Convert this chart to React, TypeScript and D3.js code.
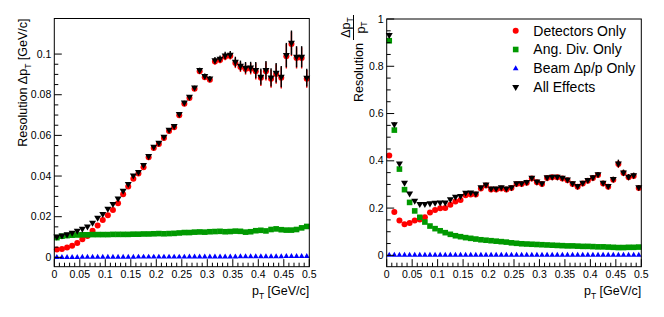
import React from "react";
import * as d3 from "d3";

// ---- data ----
const binCenters = d3.range(50).map((i) => 0.005 + 0.01 * i);

const xTickValues = [0, 0.05, 0.1, 0.15, 0.2, 0.25, 0.3, 0.35, 0.4, 0.45, 0.5];
const xTickLabels = ["0", "0.05", "0.1", "0.15", "0.2", "0.25", "0.3", "0.35", "0.4", "0.45", "0.5"];
const yTicksLeft = [0, 0.02, 0.04, 0.06, 0.08, 0.1];
const yTickLabelsLeft = ["0", "0.02", "0.04", "0.06", "0.08", "0.1"];
const yTicksRight = [0, 0.2, 0.4, 0.6, 0.8, 1];
const yTickLabelsRight = ["0", "0.2", "0.4", "0.6", "0.8", "1"];

const legendLabels = ["Detectors Only", "Ang. Div. Only", "Beam \u0394p/p Only", "All Effects"];

// Left panel: absolute resolution Δp_T [GeV/c]
const leftDetectors = [
  0.0039, 0.0041, 0.0048, 0.0057, 0.007, 0.0089, 0.0105, 0.0131, 0.0157, 0.0184,
  0.0207, 0.0233, 0.0266, 0.031, 0.0348, 0.0387, 0.0413, 0.0443, 0.0492, 0.0538,
  0.0558, 0.0587, 0.0622, 0.064, 0.0699, 0.0756, 0.0784, 0.083, 0.0915, 0.0886,
  0.0874, 0.0963, 0.0971, 0.0987, 0.0991, 0.0956, 0.0937, 0.0927, 0.0928, 0.0915,
  0.0883, 0.0915, 0.0879, 0.0902, 0.0883, 0.0989, 0.105, 0.0981, 0.0981, 0.0878,
];
const leftAngDiv = [
  0.0097, 0.0104, 0.0107, 0.0109, 0.011, 0.0111, 0.0111, 0.0112, 0.0112, 0.0112,
  0.0112, 0.0113, 0.0113, 0.0113, 0.0113, 0.0114, 0.0114, 0.0115, 0.0115, 0.0116,
  0.0117, 0.0116, 0.0117, 0.0118, 0.012, 0.0122, 0.0122, 0.0124, 0.0125, 0.0124,
  0.0126, 0.0127, 0.0128, 0.0126, 0.0127, 0.0129, 0.0128, 0.0124, 0.0126, 0.0131,
  0.0133, 0.013, 0.0137, 0.014, 0.0136, 0.0134, 0.0134, 0.0137, 0.0145, 0.0152,
];
const leftBeam = [
  0.0, 0.0, 0.0, 0.0, 0.0, 0.0001, 0.0001, 0.0001, 0.0001, 0.0001,
  0.0001, 0.0001, 0.0001, 0.0001, 0.0001, 0.0001, 0.0002, 0.0002, 0.0002, 0.0002,
  0.0002, 0.0002, 0.0002, 0.0002, 0.0002, 0.0002, 0.0003, 0.0003, 0.0003, 0.0003,
  0.0003, 0.0003, 0.0003, 0.0003, 0.0003, 0.0003, 0.0004, 0.0004, 0.0004, 0.0004,
  0.0004, 0.0004, 0.0004, 0.0004, 0.0004, 0.0005, 0.0005, 0.0005, 0.0005, 0.0005,
];
const leftAll = [
  0.0102, 0.0108, 0.0113, 0.0121, 0.0131, 0.0141, 0.0152, 0.017, 0.0195, 0.0213,
  0.0239, 0.0262, 0.0289, 0.0328, 0.0361, 0.0403, 0.042, 0.0454, 0.0498, 0.0544,
  0.0564, 0.0593, 0.0628, 0.0646, 0.0705, 0.0762, 0.079, 0.0836, 0.0921, 0.0892,
  0.088, 0.097, 0.0977, 0.0993, 0.0997, 0.0962, 0.0943, 0.0933, 0.0934, 0.0921,
  0.0889, 0.0921, 0.0885, 0.0908, 0.0889, 0.0995, 0.1056, 0.0987, 0.0987, 0.0884,
];
const leftErr = [
  0.0003, 0.0003, 0.0003, 0.0003, 0.0003, 0.0003, 0.0003, 0.0003, 0.0003, 0.0003,
  0.0003, 0.0003, 0.0003, 0.0003, 0.0003, 0.0003, 0.0003, 0.0003, 0.0008, 0.0008,
  0.0008, 0.0008, 0.0008, 0.0008, 0.0008, 0.0008, 0.0008, 0.0008, 0.0012, 0.0012,
  0.0012, 0.0016, 0.0016, 0.0018, 0.0018, 0.0025, 0.0025, 0.0028, 0.0028, 0.004,
  0.004, 0.0045, 0.0045, 0.0048, 0.0052, 0.006, 0.006, 0.0052, 0.0052, 0.0044,
];

// Right panel: relative resolution Δp_T / p_T
const rightDetectors = [
  0.422, 0.183, 0.147, 0.132, 0.137, 0.147, 0.152, 0.161, 0.181, 0.192,
  0.199, 0.2, 0.214, 0.228, 0.234, 0.254, 0.258, 0.258, 0.283, 0.296,
  0.279, 0.279, 0.283, 0.279, 0.285, 0.302, 0.302, 0.307, 0.325, 0.309,
  0.302, 0.327, 0.33, 0.33, 0.325, 0.318, 0.302, 0.29, 0.304, 0.316,
  0.327, 0.34, 0.304, 0.29, 0.32, 0.386, 0.348, 0.33, 0.336, 0.285,
];
const rightAngDiv = [
  0.908, 0.53, 0.365, 0.278, 0.224, 0.188, 0.161, 0.141, 0.124, 0.113,
  0.104, 0.096, 0.089, 0.083, 0.079, 0.075, 0.072, 0.069, 0.066, 0.064,
  0.062, 0.06, 0.058, 0.056, 0.053, 0.051, 0.049, 0.048, 0.047, 0.046,
  0.045, 0.044, 0.043, 0.042, 0.041, 0.04, 0.04, 0.039, 0.038, 0.038,
  0.037, 0.036, 0.036, 0.035, 0.034, 0.033, 0.033, 0.034, 0.034, 0.035,
];
const rightBeam = [
  0.001, 0.001, 0.001, 0.001, 0.001, 0.001, 0.001, 0.001, 0.001, 0.001,
  0.001, 0.001, 0.001, 0.001, 0.001, 0.001, 0.001, 0.001, 0.001, 0.001,
  0.001, 0.001, 0.001, 0.001, 0.001, 0.001, 0.001, 0.001, 0.001, 0.001,
  0.001, 0.001, 0.001, 0.001, 0.001, 0.001, 0.001, 0.001, 0.001, 0.001,
  0.001, 0.001, 0.001, 0.001, 0.001, 0.001, 0.001, 0.001, 0.001, 0.001,
];
const rightAll = [
  0.932, 0.555, 0.389, 0.307, 0.262, 0.231, 0.217, 0.217, 0.22, 0.223,
  0.224, 0.224, 0.237, 0.248, 0.251, 0.265, 0.266, 0.262, 0.288, 0.3,
  0.283, 0.283, 0.288, 0.283, 0.288, 0.305, 0.305, 0.31, 0.328, 0.312,
  0.305, 0.33, 0.333, 0.333, 0.328, 0.321, 0.305, 0.293, 0.307, 0.319,
  0.33, 0.343, 0.307, 0.293, 0.323, 0.389, 0.351, 0.333, 0.339, 0.288,
];
const rightErr = [
  0.01, 0.008, 0.004, 0.003, 0.003, 0.003, 0.003, 0.003, 0.003, 0.003,
  0.003, 0.003, 0.003, 0.003, 0.003, 0.003, 0.003, 0.003, 0.003, 0.003,
  0.003, 0.003, 0.003, 0.003, 0.003, 0.003, 0.003, 0.003, 0.004, 0.004,
  0.004, 0.005, 0.005, 0.005, 0.005, 0.006, 0.006, 0.006, 0.006, 0.008,
  0.008, 0.009, 0.009, 0.009, 0.01, 0.016, 0.012, 0.011, 0.011, 0.009,
];

// ---- styling ----
const FONT = "'Liberation Sans', Arial, Helvetica, sans-serif";
const RED = "#ff0000";
const GREEN = "#009900";
const BLUE = "#0000ff";
const BLACK = "#000000";

type MarkerKind = "circle" | "square" | "up" | "down";

function Marker({ kind, x, y, color }: { kind: MarkerKind; x: number; y: number; color: string }) {
  if (kind === "circle") return <circle cx={x} cy={y} r={3} fill={color} />;
  if (kind === "square") return <rect x={x - 2.8} y={y - 2.8} width={5.6} height={5.6} fill={color} />;
  if (kind === "up") {
    const s = d3.symbol().type(d3.symbolTriangle).size(14)();
    return <path d={s as string} transform={`translate(${x},${y})`} fill={color} />;
  }
  const s = d3.symbol().type(d3.symbolTriangle).size(21)();
  return <path d={s as string} transform={`translate(${x},${y}) rotate(180)`} fill={color} />;
}

type Series = { values: number[]; err?: number[]; color: string; kind: MarkerKind };

function Panel(props: {
  x0: number;
  x1: number;
  yTop: number;
  yBot: number;
  yDomain: [number, number];
  yTicks: number[];
  yTickLabels: string[];
  yMinorStep: number;
  series: Series[];
}) {
  const { x0, x1, yTop, yBot, yDomain, yTicks, yTickLabels, yMinorStep, series } = props;
  const x = d3.scaleLinear().domain([0, 0.5]).range([x0, x1]);
  const y = d3.scaleLinear().domain(yDomain).range([yBot, yTop]);
  const xMinor = d3.range(0, 51).map((i) => i * 0.01);
  const nMinorY = Math.round(yTicks[yTicks.length - 1] / yMinorStep);
  const yMinor = d3.range(0, nMinorY + 1).map((i) => i * yMinorStep);
  const majLen = 7.5;
  const minLen = 4;
  return (
    <g>
      <g>
        {series.map((s, si) => (
          <g key={si}>
            {s.err &&
              s.values.map((v, i) => (
                <line
                  key={"e" + i}
                  x1={x(binCenters[i])}
                  x2={x(binCenters[i])}
                  y1={y(v - s.err![i])}
                  y2={y(v + s.err![i])}
                  stroke={s.color}
                  strokeWidth={1.4}
                />
              ))}
            {s.values.map((v, i) => (
              <Marker key={"m" + i} kind={s.kind} x={x(binCenters[i])} y={y(v)} color={s.color} />
            ))}
          </g>
        ))}
      </g>
      <rect x={x0} y={yTop} width={x1 - x0} height={yBot - yTop} fill="none" stroke="#000" strokeWidth={1} />
      {xMinor.map((t, i) => (
        <line
          key={"xm" + i}
          x1={x(t)}
          x2={x(t)}
          y1={yBot}
          y2={yBot - (i % 5 === 0 ? majLen : minLen)}
          stroke="#000"
          strokeWidth={1}
        />
      ))}
      {xTickValues.map((t, i) => (
        <text
          key={"xl" + i}
          x={x(t)}
          y={yBot + 11}
          textAnchor="middle"
          fontSize={10.5}
          fontFamily={FONT}
          fill="#000"
        >
          {xTickLabels[i]}
        </text>
      ))}
      {yMinor.map((t, i) => {
        const isMajor = yTicks.some((m) => Math.abs(m - t) < 1e-9);
        return (
          <line
            key={"ym" + i}
            x1={x0}
            x2={x0 + (isMajor ? majLen : minLen)}
            y1={y(t)}
            y2={y(t)}
            stroke="#000"
            strokeWidth={1}
          />
        );
      })}
      {yTicks.map((t, i) => (
        <text
          key={"yl" + i}
          x={x0 - 3}
          y={y(t)}
          dy="0.35em"
          textAnchor="end"
          fontSize={10.5}
          fontFamily={FONT}
          fill="#000"
        >
          {yTickLabels[i]}
        </text>
      ))}
      <text x={x1} y={294.5} textAnchor="end" fontSize={12.5} fontFamily={FONT} fill="#000">
        p
        <tspan fontSize={8.5} dy={4}>
          T
        </tspan>
        <tspan dy={-4}> [GeV/c]</tspan>
      </text>
    </g>
  );
}

export default function App() {
  const leftSeries: Series[] = [
    { values: leftDetectors, err: leftErr, color: RED, kind: "circle" },
    { values: leftAngDiv, color: GREEN, kind: "square" },
    { values: leftBeam, color: BLUE, kind: "up" },
    { values: leftAll, err: leftErr, color: BLACK, kind: "down" },
  ];
  const rightSeries: Series[] = [
    { values: rightDetectors, err: rightErr, color: RED, kind: "circle" },
    { values: rightAngDiv, color: GREEN, kind: "square" },
    { values: rightBeam, color: BLUE, kind: "up" },
    { values: rightAll, err: rightErr, color: BLACK, kind: "down" },
  ];
  const legendKinds: MarkerKind[] = ["circle", "square", "up", "down"];
  const legendColors = [RED, GREEN, BLUE, BLACK];
  const legendY = [30.7, 49.5, 68.5, 87];

  return (
    <svg width={664} height={317} style={{ display: "block", position: "absolute", left: 0, top: 0 }}>
      <rect x={0} y={0} width={664} height={317} fill="#fff" />
      <Panel
        x0={54.3}
        x1={309.3}
        yTop={18.5}
        yBot={266.7}
        yDomain={[-0.0046, 0.1175]}
        yTicks={yTicksLeft}
        yTickLabels={yTickLabelsLeft}
        yMinorStep={0.005}
        series={leftSeries}
      />
      <Panel
        x0={386.7}
        x1={641.3}
        yTop={19}
        yBot={266.7}
        yDomain={[-0.048, 1]}
        yTicks={yTicksRight}
        yTickLabels={yTickLabelsRight}
        yMinorStep={0.05}
        series={rightSeries}
      />
      <text
        transform="translate(27,18.5) rotate(-90)"
        textAnchor="end"
        fontSize={12.5}
        fontFamily={FONT}
        fill="#000"
      >
        Resolution {"\u0394"}p
        <tspan fontSize={8.5} dy={4}>
          T
        </tspan>
        <tspan dy={-4}>{"  [GeV/c]"}</tspan>
      </text>
      <text
        transform="translate(362.5,43) rotate(-90)"
        textAnchor="end"
        fontSize={12.5}
        fontFamily={FONT}
        fill="#000"
      >
        Resolution
      </text>
      <line x1={353.5} x2={353.5} y1={15} y2={40} stroke="#000" strokeWidth={1} />
      <text
        transform="translate(350,27.5) rotate(-90)"
        textAnchor="middle"
        fontSize={12.5}
        fontFamily={FONT}
        fill="#000"
      >
        {"\u0394"}p
        <tspan fontSize={8.5} dy={2.5}>
          T
        </tspan>
      </text>
      <text
        transform="translate(364.5,27.5) rotate(-90)"
        textAnchor="middle"
        fontSize={12.5}
        fontFamily={FONT}
        fill="#000"
      >
        p
        <tspan fontSize={8.5} dy={2.5}>
          T
        </tspan>
      </text>
      {legendLabels.map((lab, i) => (
        <g key={"lg" + i}>
          <Marker kind={legendKinds[i]} x={515.7} y={legendY[i]} color={legendColors[i]} />
          <text
            x={533.3}
            y={legendY[i]}
            dy="0.35em"
            fontSize={14}
            fontFamily={FONT}
            fill="#000"
          >
            {lab}
          </text>
        </g>
      ))}
    </svg>
  );
}
